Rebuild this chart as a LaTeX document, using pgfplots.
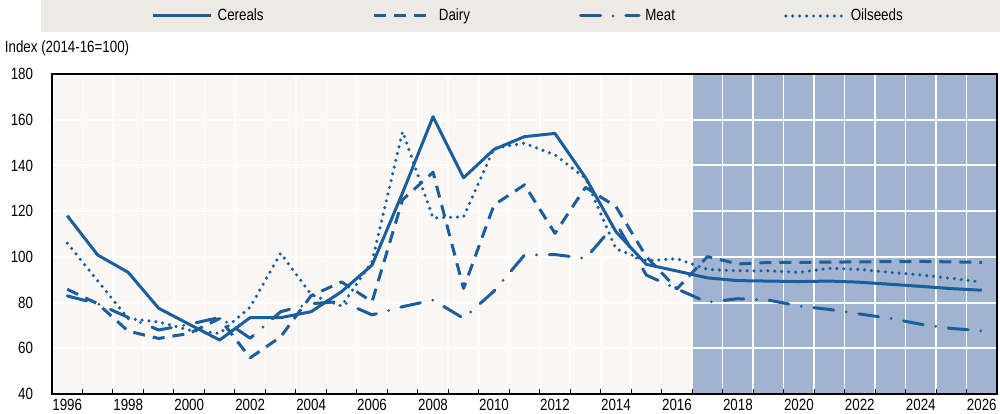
\documentclass[border=0pt]{standalone}
\usepackage{fontspec}
\setmainfont{Liberation Sans}[FakeStretch=0.82]
\usepackage{pgfplots}
\usepackage{pgfplotstable}
\pgfplotsset{compat=1.18}

\definecolor{oecdblue}{HTML}{1A5E9E}
\definecolor{projbg}{HTML}{A0B4D2}
\definecolor{plotbg}{HTML}{F9F6F3}
\definecolor{legbg}{HTML}{EDEAE6}
\newcommand\fs{\fontsize{12.2}{14}\selectfont}

% year cereals dairy meat oilseeds (index 2014-16=100)
\pgfplotstableread{
year cereals dairy meat oilseeds
1996 118.0 85.8 82.9 106.0
1997 100.8 79.5 79.5 89.5
1998 93.2 67.5 73.5 73.0
1999 77.5 64.3 68.0 71.5
2000 70.5 66.5 70.5 68.0
2001 63.6 73.0 73.5 66.5
2002 73.4 55.8 64.4 78.0
2003 73.4 65.0 76.0 101.6
2004 76.0 83.0 79.5 83.5
2005 84.8 89.0 80.5 78.5
2006 96.4 80.4 74.6 98.0
2007 128.0 125.0 78.2 154.8
2008 161.3 137.0 81.1 117.0
2009 134.6 86.2 73.1 117.5
2010 147.0 122.7 85.0 147.5
2011 152.6 131.5 100.8 149.7
2012 154.0 110.3 101.0 144.6
2013 134.7 130.4 99.3 134.4
2014 111.0 122.0 114.7 103.5
2015 96.7 100.0 92.0 98.3
2016 93.8 86.0 86.0 99.2
2017 90.8 100.1 80.1 94.5
2018 89.6 96.9 81.7 93.9
2019 89.4 97.5 81.1 93.9
2020 89.2 97.6 78.5 93.2
2021 89.4 97.7 77.0 95.0
2022 88.9 97.8 75.0 94.5
2023 88.0 97.9 73.1 93.2
2024 87.1 98.0 70.5 92.1
2025 86.1 97.8 68.7 90.6
2026 85.4 97.6 67.6 88.9
}\datatable

\begin{document}
\begin{tikzpicture}
\fill[legbg] (31pt,286.5pt) rectangle (750pt,310.5pt);
\node[anchor=west, inner sep=0pt, font=\fs] at (3.5pt,274.5pt) {Index (2014-16=100)};
\begin{axis}[
    set layers,
    at={(39pt,15pt)}, anchor=south west,
    width=708.75pt, height=240pt, scale only axis,
    xmin=1995.5, xmax=2026.5, ymin=40, ymax=180,
    xtick={1996,1998,...,2026},
    minor xtick={1996.5,1997.5,...,2025.5},
    ytick={40,60,...,180},
    xtick pos=lower, ytick pos=left,
    major tick length=0pt, minor tick length=3.75pt,
    tick align=inside,
    minor tick style={black, line width=0.75pt},
    xminorgrids=true, ymajorgrids=true,
    minor x grid style={white, line width=1.2pt},
    major y grid style={white, line width=1.5pt},
    axis line style={black, line width=0.9pt},
    /pgf/number format/assume math mode=true,
    xticklabel style={/pgf/number format/1000 sep=, font=\fs, inner sep=0pt, yshift=-4pt},
    yticklabel style={font=\fs, inner sep=0pt, xshift=-14pt},
    legend columns=4,
    legend style={at={(rel axis cs:0.1048,1.18125)}, anchor=west,
        draw=none, fill=none, inner sep=0pt, font=\fs,
        nodes={inner sep=0pt},
        /tikz/every odd column/.append style={column sep=3.5pt},
        /tikz/every even column/.append style={column sep=81.75pt}},
    legend image code/.code={\draw[#1] (0pt,0pt) -- (44pt,0pt);},
    every axis plot/.append style={oecdblue, line width=2.25pt, line join=round},
]
\begin{pgfonlayer}{axis background}
\fill[plotbg] (axis cs:1995.5,40) rectangle (axis cs:2016.5,180);
\fill[projbg] (axis cs:2016.5,40) rectangle (axis cs:2026.5,180);
\end{pgfonlayer}

\addplot[solid] table[x=year, y=cereals] {\datatable};
\addlegendentry{Cereals}
\addplot[dash pattern=on 9pt off 6pt] table[x=year, y=dairy] {\datatable};
\addlegendentry{Dairy}
\addplot[line cap=round, dash pattern=on 15pt off 9.5pt on 0pt off 9.5pt] table[x=year, y=meat] {\datatable};
\addlegendentry{Meat}
\addplot[line cap=round, line width=2.6pt, dash pattern=on 0pt off 5.2pt] table[x=year, y=oilseeds] {\datatable};
\addlegendentry{Oilseeds}
\end{axis}
\pgfresetboundingbox
\path (0pt,0pt) rectangle (750pt,310.5pt);
\end{tikzpicture}
\end{document}
